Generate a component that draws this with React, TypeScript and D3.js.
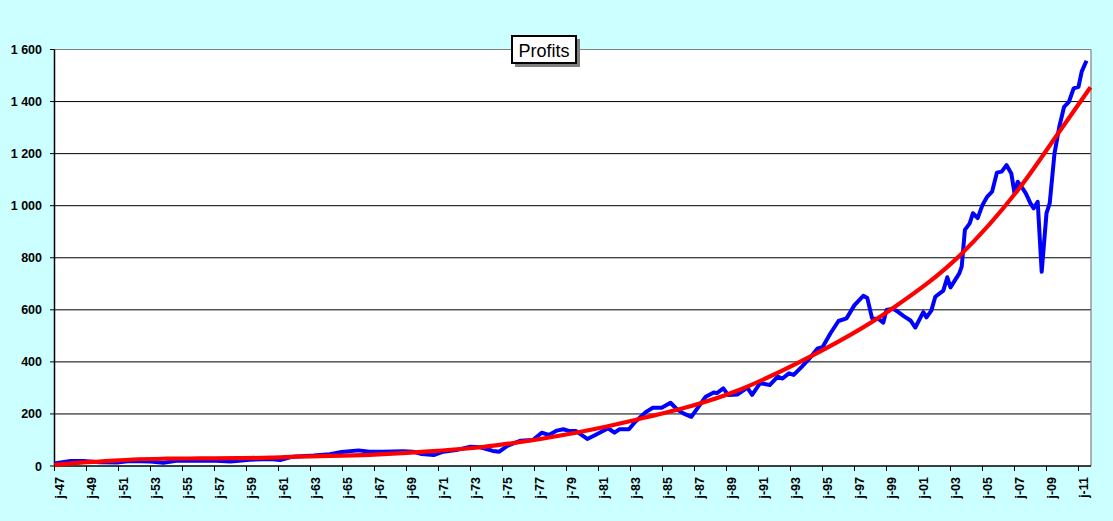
import React from "react";
import * as d3 from "d3";

// Quarterly profits (decimal year, value)
const profitYears = [
  1947.0, 1948.0, 1948.8, 1949.8, 1950.9, 1951.7, 1953.0, 1953.8, 1954.6, 1956.1,
  1957.1, 1958.0, 1959.2, 1960.5, 1961.1, 1961.9, 1963.2, 1964.2, 1964.95, 1966.0,
  1966.7, 1967.5, 1968.8, 1969.4, 1969.95, 1970.7, 1971.3, 1972.1, 1973.0, 1973.6,
  1974.4, 1974.8, 1975.3, 1976.1, 1976.9, 1977.45, 1977.9, 1978.4, 1978.8, 1979.2,
  1979.6, 1980.3, 1980.8, 1981.4, 1981.6, 1982.0, 1982.3, 1982.9, 1983.3, 1984.0,
  1984.4, 1984.95, 1985.5, 1985.9, 1986.3, 1986.8, 1987.1, 1987.7, 1988.2, 1988.4,
  1988.8, 1989.1, 1989.7, 1990.3, 1990.6, 1991.1, 1991.7, 1992.2, 1992.5, 1992.9,
  1993.2, 1993.7, 1994.2, 1994.7, 1995.0, 1995.5, 1996.0, 1996.5, 1997.0, 1997.55,
  1997.8, 1998.1, 1998.5, 1998.8, 1999.0, 1999.4, 1999.7, 2000.1, 2000.5, 2000.8,
  2001.3, 2001.5, 2001.8, 2002.05, 2002.55, 2002.8, 2003.0, 2003.55, 2003.7, 2003.9,
  2004.2, 2004.4, 2004.7, 2005.0, 2005.3, 2005.6, 2005.9, 2006.2, 2006.5, 2006.8,
  2007.0, 2007.2, 2007.5, 2007.7, 2008.0, 2008.2, 2008.45, 2008.7, 2009.0, 2009.2,
  2009.5, 2009.8, 2010.1, 2010.4, 2010.7, 2011.0, 2011.2, 2011.5,
];
const profitValues = [
  10, 19, 19, 14, 13, 19, 17, 12, 20, 21,
  20, 17, 24, 27, 23, 36, 40, 45, 54, 60,
  55, 55, 57, 55, 46, 42, 55, 61, 74, 72,
  58, 55, 77, 97, 100, 128, 119, 136, 141, 134,
  134, 104, 119, 138, 145, 128, 141, 141, 170, 209,
  224, 224, 243, 218, 202, 189, 215, 266, 282, 280,
  298, 273, 275, 301, 273, 318, 311, 343, 336, 356,
  350, 381, 414, 452, 456, 510, 557, 567, 618, 654,
  645, 567, 565, 551, 599, 604, 593, 575, 559, 532,
  591, 571, 597, 650, 674, 725, 686, 740, 766, 907,
  932, 971, 952, 1003, 1035, 1054, 1127, 1131, 1156, 1124,
  1048, 1092, 1067, 1048, 1009, 990, 1015, 746, 971, 1009,
  1201, 1303, 1380, 1399, 1451, 1457, 1515, 1557,
];

// Trend line (red), read at points
const trendYears = [
  1947.0, 1948.8, 1949.8, 1951.9, 1954.0, 1956.1, 1958.5, 1960.5, 1962.1, 1966.7,
  1970.9, 1973.6, 1974.8, 1983.3, 1989.5, 1993.4, 1999.3, 2003.6, 2007.3, 2009.8, 2011.75,
];
const trendValues = [
  4, 14, 17, 25, 28, 29, 30, 32, 36, 43,
  58, 72, 81, 177, 285, 394, 602, 810, 1067, 1284, 1455,
];

const yTicks = [0, 200, 400, 600, 800, 1000, 1200, 1400, 1600];
const xTickYears = d3.range(1947, 2012, 2);
const title = "Profits";

const W = 1113;
const H = 521;
const left = 54.5;
const right = 1091;
const top = 49.5;
const bottom = 466;

const fr = d3.formatLocale({ decimal: ",", thousands: " ", grouping: [3], currency: ["", "€"] });
const fmt = fr.format(",d");

export default function App() {
  const x = d3.scaleLinear().domain([1947, 1947 + (right - left) / 16]).range([left, right]);
  const y = d3.scaleLinear().domain([0, 1600]).range([bottom, top]);

  const profitPts: [number, number][] = profitYears.map((t, i) => [t, profitValues[i]]);
  const trendPts: [number, number][] = trendYears.map((t, i) => [t, trendValues[i]]);

  const blueLine = d3
    .line<[number, number]>()
    .x((d) => x(d[0]))
    .y((d) => y(d[1]));
  const redLine = d3
    .line<[number, number]>()
    .x((d) => x(d[0]))
    .y((d) => y(d[1]))
    .curve(d3.curveMonotoneX);

  return (
    <svg
      width={W}
      height={H}
      style={{ position: "absolute", left: 0, top: 0, display: "block" }}
      fontFamily="Arial, 'Liberation Sans', sans-serif"
    >
      <rect x={0} y={0} width={W} height={H} fill="#CCFFFF" />
      <rect x={left} y={top} width={right - left} height={bottom - top} fill="#FFFFFF" />
      {/* gridlines */}
      {yTicks.slice(1, -1).map((v) => (
        <line key={v} x1={left} x2={right} y1={y(v)} y2={y(v)} stroke="#000" strokeWidth={1} />
      ))}
      {/* plot border top/right */}
      <line x1={left} x2={right} y1={top} y2={top} stroke="#808080" strokeWidth={1.2} />
      <line x1={right} x2={right} y1={top} y2={bottom} stroke="#808080" strokeWidth={1.2} />
      {/* axes */}
      <line x1={left} x2={left} y1={top} y2={bottom} stroke="#000" strokeWidth={1.5} />
      <line x1={left} x2={right} y1={bottom} y2={bottom} stroke="#000" strokeWidth={1.5} />
      {yTicks.map((v) => (
        <g key={v}>
          <line x1={left - 4.5} x2={left} y1={y(v)} y2={y(v)} stroke="#000" strokeWidth={1} />
          <text
            x={42}
            y={y(v)}
            dy="0.36em"
            textAnchor="end"
            fontSize={12.5}
            fontWeight="bold"
            fill="#000"
          >
            {fmt(v)}
          </text>
        </g>
      ))}
      {xTickYears.map((yr) => (
        <g key={yr}>
          <line x1={x(yr)} x2={x(yr)} y1={bottom} y2={bottom + 5} stroke="#000" strokeWidth={1} />
          <text
            transform={`translate(${x(yr) + 9.5},${477}) rotate(-90)`}
            textAnchor="end"
            fontSize={12.5}
            fontWeight="bold"
            fill="#000"
          >
            {"j-" + String(yr % 100).padStart(2, "0")}
          </text>
        </g>
      ))}
      {/* series */}
      <path d={blueLine(profitPts) || ""} fill="none" stroke="#0000FF" strokeWidth={4} strokeLinejoin="round" />
      <path d={redLine(trendPts) || ""} fill="none" stroke="#FF0000" strokeWidth={4.2} strokeLinejoin="round" />
      {/* title */}
      <rect x={515} y={39} width={65} height={28} fill="#808080" />
      <rect x={512} y={36} width={64} height={27} fill="#FFFFFF" stroke="#000" strokeWidth={2} />
      <text x={544} y={56.5} textAnchor="middle" fontSize={18} fill="#000">
        {title}
      </text>
    </svg>
  );
}
